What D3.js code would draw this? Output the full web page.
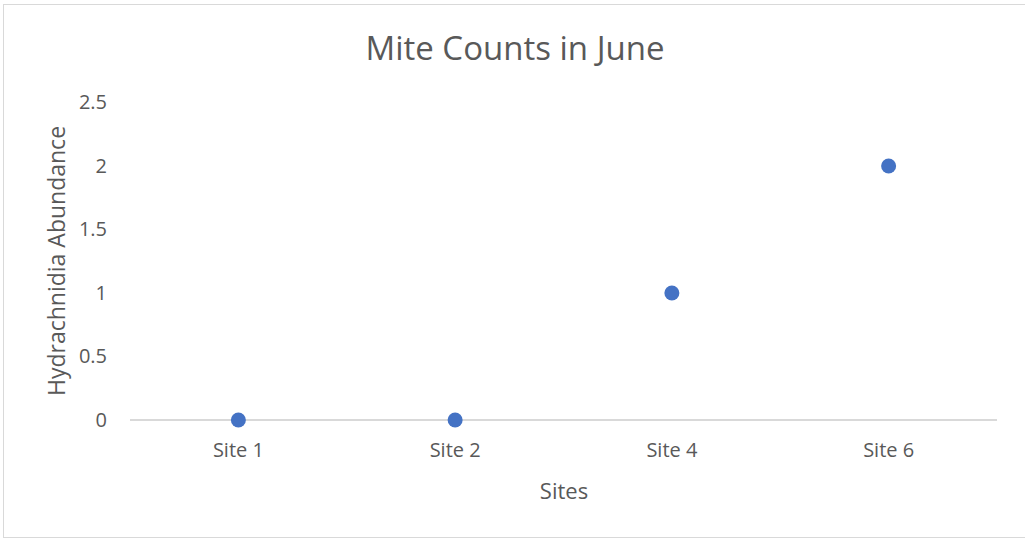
<!DOCTYPE html>
<html>
<head>
<meta charset="utf-8">
<script src="https://cdn.jsdelivr.net/npm/d3@7"></script>
<style>
  html, body { margin: 0; padding: 0; background: #fff; }
  svg { display: block; }
  text { font-family: "Open Sans", "Noto Sans", sans-serif; fill: #595959; }
</style>
</head>
<body>
<svg id="chart" width="1025" height="539"></svg>
<script>
// Mite counts per site in June
const sites = ["Site 1", "Site 2", "Site 4", "Site 6"];
const abundance = [0, 0, 1, 2];
const yTicks = [0, 0.5, 1, 1.5, 2, 2.5];

const svg = d3.select("#chart");

// outer chart frame
svg.append("rect")
  .attr("x", 3.5).attr("y", 4.5)
  .attr("width", 1030).attr("height", 533)
  .attr("fill", "#fff").attr("stroke", "#d9d9d9").attr("stroke-width", 1);

const plot = { left: 130, right: 997, top: 102.5, bottom: 420 };

const x = d3.scaleBand().domain(sites).range([plot.left, plot.right]);
const y = d3.scaleLinear().domain([0, 2.5]).range([plot.bottom, plot.top]);

// y tick labels (no gridlines)
const yAxis = d3.axisLeft(y).tickValues(yTicks).tickSize(0).tickPadding(0)
  .tickFormat(d => String(d));
const gy = svg.append("g").attr("transform", `translate(${plot.left - 23},0)`).call(yAxis);
gy.select(".domain").remove();
gy.selectAll("text").attr("font-size", 20).attr("fill", "#595959")
  .attr("font-family", '"Open Sans", sans-serif');

// x axis baseline and category labels
const xAxis = d3.axisBottom(x).tickSize(0).tickPadding(23);
const gx = svg.append("g").attr("transform", `translate(0,${plot.bottom})`).call(xAxis);
gx.select(".domain").attr("stroke", "#d9d9d9").attr("stroke-width", 2)
  .attr("d", `M${plot.left},0H${plot.right}`);
gx.selectAll("text").attr("font-size", 20).attr("fill", "#595959")
  .attr("font-family", '"Open Sans", sans-serif');

// data points
svg.append("g").selectAll("circle")
  .data(sites.map((s, i) => ({ site: s, value: abundance[i] })))
  .join("circle")
  .attr("cx", d => x(d.site) + x.bandwidth() / 2)
  .attr("cy", d => y(d.value))
  .attr("r", 7.5)
  .attr("fill", "#4472c4");

// titles
svg.append("text")
  .attr("x", 515).attr("y", 60)
  .attr("text-anchor", "middle")
  .attr("font-size", 33)
  .text("Mite Counts in June");

svg.append("text")
  .attr("x", 564).attr("y", 499)
  .attr("text-anchor", "middle")
  .attr("font-size", 22)
  .text("Sites");

svg.append("text")
  .attr("transform", "translate(65,261) rotate(-90)")
  .attr("text-anchor", "middle")
  .attr("font-size", 23)
  .text("Hydrachnidia Abundance");
</script>
</body>
</html>
